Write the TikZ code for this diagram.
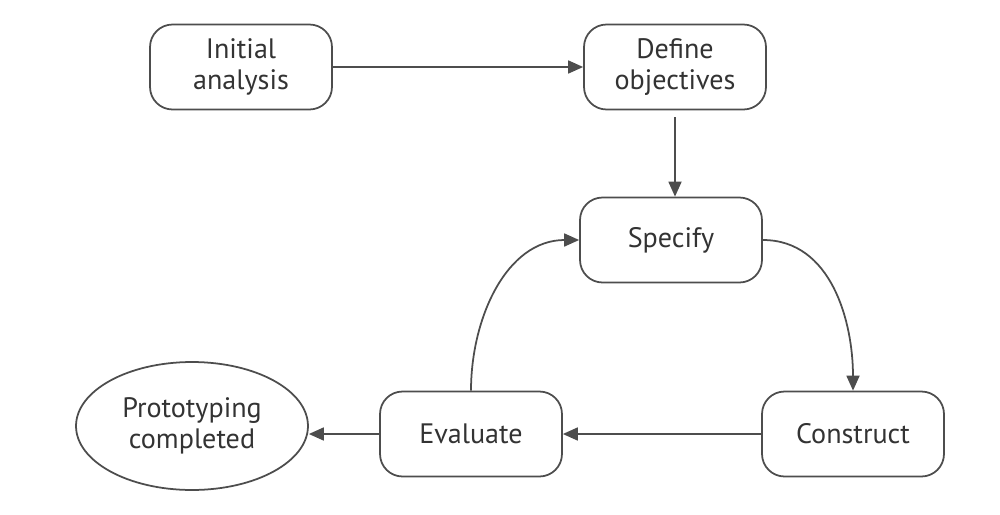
\documentclass[tikz,border=0pt]{standalone}
\usepackage{fontspec}
\setmainfont{PT Sans}
\usetikzlibrary{arrows.meta,shapes.geometric}
\definecolor{linegray}{HTML}{4D4D4D}
\definecolor{textgray}{HTML}{333333}
\begin{document}
\begin{tikzpicture}[x=0.02cm,y=-0.02cm,
  stepbox/.style={draw=linegray,line width=1pt,rounded corners=0.45cm,minimum width=3.64cm,minimum height=1.7cm,align=center,text=textgray,font=\fontsize{16}{18}\selectfont,inner sep=0pt},
  endnode/.style={draw=linegray,line width=1pt,ellipse,minimum width=4.64cm,minimum height=2.56cm,align=center,text=textgray,font=\fontsize{16}{18}\selectfont,inner sep=0pt},
  conn/.style={draw=linegray,line width=1pt,-{Triangle[length=0.3cm,width=0.26cm]}}]
\useasboundingbox (0,0) rectangle (1000,514);
\node[stepbox] (init) at (241,67) {Initial\\analysis};
\node[stepbox] (define) at (675,67) {Define\\objectives};
\node[stepbox] (specify) at (671,240) {Specify};
\node[stepbox] (construct) at (853,434) {Construct};
\node[stepbox] (evaluate) at (471,434) {Evaluate};
\node[endnode] (done) at (192,426) {Prototyping\\completed};
\draw[conn] (init.east) -- (define.west);
\draw[conn] ([yshift=-0.14cm]define.south) -- (specify.north -| define.south);
\draw[conn] (specify.east) to[out=0,in=90] (construct.north);
\draw[conn] (construct.west) -- (evaluate.east);
\draw[conn] (evaluate.north) to[out=90,in=180] (specify.west);
\draw[conn] (evaluate.west) -- (evaluate.west -| done.east);
\end{tikzpicture}
\end{document}
